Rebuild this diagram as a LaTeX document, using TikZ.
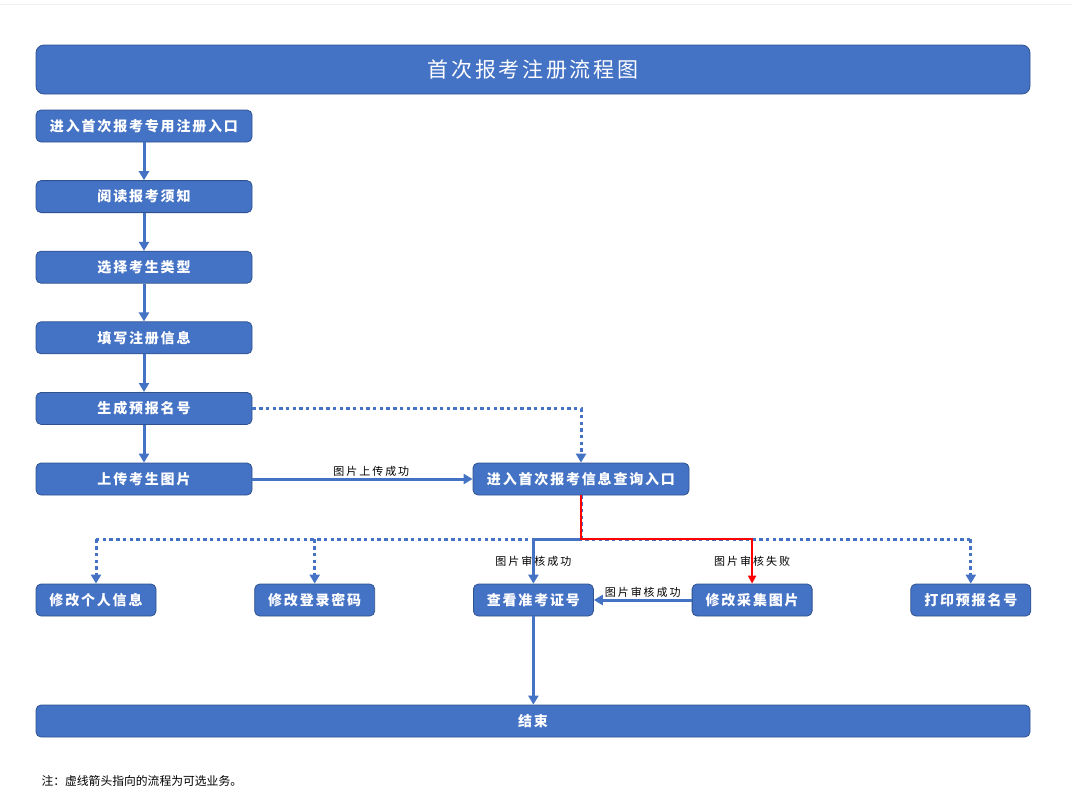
\documentclass[tikz,border=0pt]{standalone}
\usepackage{fontspec}
\usetikzlibrary{arrows.meta,positioning,calc}
\newfontfamily\cjkbox[LetterSpace=13]{Noto Sans CJK SC}
\newfontfamily\cjktag[LetterSpace=18]{Noto Sans CJK SC}
\newfontfamily\cjknote{Noto Sans CJK SC}
\definecolor{boxblue}{HTML}{4472C4}
\definecolor{boxedge}{HTML}{2F528F}
\tikzset{
  stepbox/.style={rectangle, rounded corners=5pt, draw=boxedge, line width=0.8pt, fill=boxblue, text=white, minimum width=216pt, minimum height=32pt, inner sep=0pt, font=\cjkbox\fontsize{14}{16}\selectfont\bfseries},
  smallbox/.style={stepbox, minimum width=120pt},
  widebox/.style={stepbox, minimum width=994pt},
  flow/.style={->, draw=boxblue, line width=3pt},
  optflow/.style={->, draw=boxblue, line width=3pt, dash pattern=on 3.4pt off 3.3pt},
  failflow/.style={-{Triangle[width=8pt,length=8pt]}, draw=red, line width=2pt},
  tag/.style={font=\cjktag\fontsize{11}{13}\selectfont, text=black, inner sep=1.5pt}
}
\begin{document}
\begin{tikzpicture}[x=1pt,y=-1pt,>={Triangle[width=10pt,length=9pt]}]
\useasboundingbox (0,0) rectangle (1072,812);
\draw[gray!12, line width=1pt] (0,4) -- (1072,4);

\node[widebox, minimum height=49pt, rounded corners=8pt, font=\cjkbox\fontsize{21}{24}\selectfont] (title) at (533,69.5) {首次报考注册流程图};

% registration steps
\node[stepbox] (entry) at (144,126) {进入首次报考专用注册入口};
\node[stepbox, below=37.8pt of entry] (notice) {阅读报考须知};
\node[stepbox, below=37.8pt of notice] (type) {选择考生类型};
\node[stepbox, below=37.8pt of type] (fill) {填写注册信息};
\node[stepbox, below=37.8pt of fill] (number) {生成预报名号};
\node[stepbox, below=37.8pt of number] (upload) {上传考生图片};
\node[stepbox, right=220.2pt of upload] (query) {进入首次报考信息查询入口};

% query services
\node[smallbox] (info) at (96,600) {修改个人信息};
\node[smallbox, right=97.9pt of info] (pwd) {修改登录密码};
\node[smallbox, right=97.9pt of pwd] (ticket) {查看准考证号};
\node[smallbox, right=97.9pt of ticket] (photo) {修改采集图片};
\node[smallbox, right=97.9pt of photo] (print) {打印预报名号};
\node[widebox] (finish) at (533,721) {结束};
\node[anchor=west, font=\cjknote\fontsize{11.8}{13}\selectfont] (note) at (38,781) {注：虚线箭头指向的流程为可选业务。};

\coordinate (hub) at ($(query.south)+(0,44)$);

\foreach \a/\b in {entry/notice, notice/type, type/fill, fill/number, number/upload}
  \draw[flow] (\a) -- (\b);
\draw[flow] (upload) -- node[tag, above, pos=0.54] {图片上传成功} (query);
\draw[optflow] (number) -| (query);
\draw[optflow, -] (query) -- (hub);
\draw[optflow, -] (info.north |- hub) -- (print.north |- hub);
\foreach \t in {info, pwd, print}
  \draw[optflow] (\t.north |- hub) -- (\t);
\draw[flow] (hub) -| node[tag, pos=0.75] {图片审核成功} (ticket);
\draw[failflow] (query) -- (hub) -| node[tag, pos=0.75] {图片审核失败} (photo);
\draw[flow] (photo) -- node[tag, above] {图片审核成功} (ticket);
\draw[flow] (ticket) -- (ticket |- finish.north);
\end{tikzpicture}
\end{document}
